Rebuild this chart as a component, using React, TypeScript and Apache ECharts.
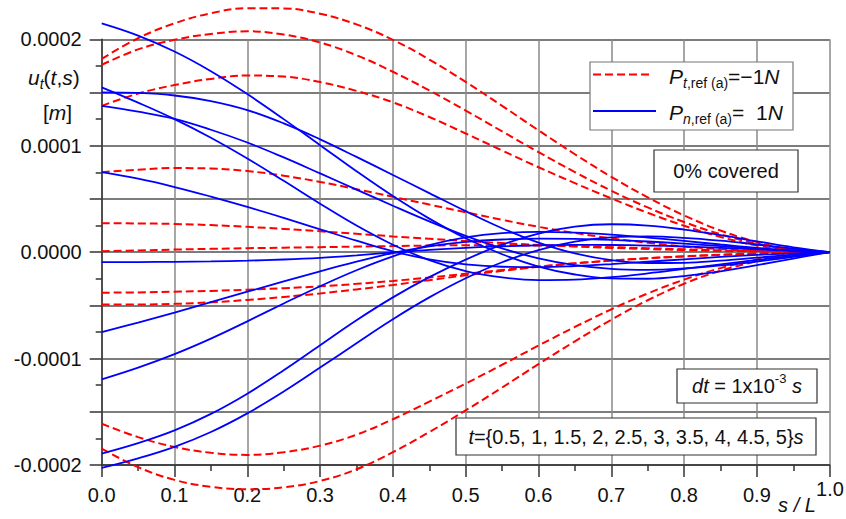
import React, { useEffect, useRef } from 'react';
import * as echarts from 'echarts';

// positions along the beam, s / L
const sPositions = [0, 0.05, 0.1, 0.15, 0.2, 0.25, 0.3, 0.35, 0.4, 0.45, 0.5, 0.55, 0.6, 0.65, 0.7, 0.75, 0.8, 0.85, 0.9, 0.95, 1.0];

// red dashed curves: P_t,ref(a) = -1N  (u_t in m)
const redCurve1 = [1.816e-4, 2.010e-4, 2.150e-4, 2.245e-4, 2.292e-4, 2.290e-4, 2.240e-4, 2.140e-4, 1.995e-4, 1.810e-4, 1.600e-4, 1.375e-4, 1.145e-4, 0.920e-4, 0.708e-4, 0.515e-4, 0.345e-4, 0.203e-4, 0.095e-4, 0.025e-4, 0];
const redCurve2 = [1.760e-4, 1.905e-4, 1.995e-4, 2.050e-4, 2.075e-4, 2.045e-4, 1.970e-4, 1.850e-4, 1.695e-4, 1.520e-4, 1.330e-4, 1.135e-4, 0.940e-4, 0.752e-4, 0.577e-4, 0.420e-4, 0.283e-4, 0.168e-4, 0.080e-4, 0.022e-4, 0];
const redCurve3 = [1.375e-4, 1.490e-4, 1.570e-4, 1.628e-4, 1.660e-4, 1.650e-4, 1.598e-4, 1.515e-4, 1.408e-4, 1.270e-4, 1.115e-4, 0.955e-4, 0.798e-4, 0.648e-4, 0.505e-4, 0.370e-4, 0.248e-4, 0.143e-4, 0.063e-4, 0.016e-4, 0];
const redCurve4 = [0.751e-4, 0.775e-4, 0.790e-4, 0.786e-4, 0.762e-4, 0.718e-4, 0.660e-4, 0.592e-4, 0.520e-4, 0.447e-4, 0.375e-4, 0.304e-4, 0.238e-4, 0.180e-4, 0.130e-4, 0.088e-4, 0.054e-4, 0.028e-4, 0.011e-4, 0.003e-4, 0];
const redCurve5 = [0.272e-4, 0.270e-4, 0.265e-4, 0.254e-4, 0.238e-4, 0.218e-4, 0.196e-4, 0.172e-4, 0.148e-4, 0.125e-4, 0.104e-4, 0.085e-4, 0.068e-4, 0.053e-4, 0.040e-4, 0.029e-4, 0.019e-4, 0.011e-4, 0.005e-4, 0.001e-4, 0];
const redCurve6 = [0.009e-4, 0.016e-4, 0.024e-4, 0.031e-4, 0.037e-4, 0.042e-4, 0.047e-4, 0.052e-4, 0.057e-4, 0.062e-4, 0.065e-4, 0.065e-4, 0.062e-4, 0.056e-4, 0.047e-4, 0.037e-4, 0.027e-4, 0.017e-4, 0.009e-4, 0.003e-4, 0];
const redCurve7 = [-0.381e-4, -0.378e-4, -0.372e-4, -0.364e-4, -0.353e-4, -0.339e-4, -0.321e-4, -0.298e-4, -0.270e-4, -0.238e-4, -0.203e-4, -0.168e-4, -0.135e-4, -0.105e-4, -0.079e-4, -0.057e-4, -0.039e-4, -0.024e-4, -0.013e-4, -0.005e-4, 0];
const redCurve8 = [-0.491e-4, -0.492e-4, -0.486e-4, -0.471e-4, -0.449e-4, -0.421e-4, -0.388e-4, -0.350e-4, -0.308e-4, -0.263e-4, -0.218e-4, -0.176e-4, -0.138e-4, -0.106e-4, -0.079e-4, -0.057e-4, -0.040e-4, -0.026e-4, -0.015e-4, -0.006e-4, 0];
const redCurve9 = [-1.612e-4, -1.738e-4, -1.830e-4, -1.885e-4, -1.905e-4, -1.880e-4, -1.818e-4, -1.715e-4, -1.570e-4, -1.405e-4, -1.235e-4, -1.058e-4, -0.878e-4, -0.703e-4, -0.537e-4, -0.388e-4, -0.258e-4, -0.150e-4, -0.070e-4, -0.020e-4, 0];
const redCurve10 = [-1.846e-4, -2.020e-4, -2.140e-4, -2.205e-4, -2.228e-4, -2.210e-4, -2.150e-4, -2.040e-4, -1.880e-4, -1.690e-4, -1.487e-4, -1.272e-4, -1.052e-4, -0.838e-4, -0.635e-4, -0.452e-4, -0.297e-4, -0.175e-4, -0.087e-4, -0.030e-4, 0];

// blue solid curves: P_n,ref(a) = 1N
const blueCurve1 = [2.150e-4, 2.035e-4, 1.885e-4, 1.700e-4, 1.485e-4, 1.250e-4, 1.005e-4, 0.760e-4, 0.527e-4, 0.315e-4, 0.130e-4, -0.020e-4, -0.135e-4, -0.210e-4, -0.247e-4, -0.250e-4, -0.225e-4, -0.180e-4, -0.122e-4, -0.060e-4, 0];
const blueCurve2 = [1.549e-4, 1.405e-4, 1.250e-4, 1.075e-4, 0.880e-4, 0.670e-4, 0.455e-4, 0.250e-4, 0.070e-4, -0.075e-4, -0.178e-4, -0.238e-4, -0.262e-4, -0.258e-4, -0.235e-4, -0.200e-4, -0.158e-4, -0.115e-4, -0.073e-4, -0.035e-4, 0];
const blueCurve3 = [1.502e-4, 1.496e-4, 1.472e-4, 1.420e-4, 1.335e-4, 1.210e-4, 1.060e-4, 0.895e-4, 0.725e-4, 0.555e-4, 0.385e-4, 0.225e-4, 0.090e-4, -0.012e-4, -0.075e-4, -0.102e-4, -0.100e-4, -0.080e-4, -0.052e-4, -0.024e-4, 0];
const blueCurve4 = [1.375e-4, 1.320e-4, 1.252e-4, 1.150e-4, 1.030e-4, 0.890e-4, 0.740e-4, 0.588e-4, 0.436e-4, 0.289e-4, 0.153e-4, 0.035e-4, -0.058e-4, -0.122e-4, -0.157e-4, -0.166e-4, -0.153e-4, -0.125e-4, -0.088e-4, -0.045e-4, 0];
const blueCurve5 = [0.751e-4, 0.690e-4, 0.612e-4, 0.522e-4, 0.425e-4, 0.322e-4, 0.215e-4, 0.108e-4, 0.008e-4, -0.068e-4, -0.115e-4, -0.137e-4, -0.140e-4, -0.130e-4, -0.112e-4, -0.090e-4, -0.067e-4, -0.045e-4, -0.026e-4, -0.011e-4, 0];
const blueCurve6 = [-0.094e-4, -0.093e-4, -0.091e-4, -0.087e-4, -0.080e-4, -0.069e-4, -0.053e-4, -0.030e-4, -0.003e-4, 0.022e-4, 0.041e-4, 0.055e-4, 0.064e-4, 0.068e-4, 0.067e-4, 0.062e-4, 0.053e-4, 0.041e-4, 0.027e-4, 0.012e-4, 0];
const blueCurve7 = [-0.751e-4, -0.662e-4, -0.568e-4, -0.470e-4, -0.372e-4, -0.275e-4, -0.180e-4, -0.090e-4, -0.008e-4, 0.055e-4, 0.097e-4, 0.119e-4, 0.127e-4, 0.124e-4, 0.115e-4, 0.100e-4, 0.080e-4, 0.057e-4, 0.034e-4, 0.014e-4, 0];
const blueCurve8 = [-1.195e-4, -1.085e-4, -0.958e-4, -0.812e-4, -0.650e-4, -0.482e-4, -0.320e-4, -0.170e-4, -0.040e-4, 0.065e-4, 0.138e-4, 0.178e-4, 0.190e-4, 0.183e-4, 0.164e-4, 0.137e-4, 0.105e-4, 0.072e-4, 0.040e-4, 0.015e-4, 0];
const blueCurve9 = [-1.893e-4, -1.795e-4, -1.675e-4, -1.520e-4, -1.330e-4, -1.110e-4, -0.875e-4, -0.640e-4, -0.425e-4, -0.235e-4, -0.070e-4, 0.070e-4, 0.175e-4, 0.240e-4, 0.262e-4, 0.250e-4, 0.212e-4, 0.160e-4, 0.102e-4, 0.045e-4, 0];
const blueCurve10 = [-2.028e-4, -1.938e-4, -1.830e-4, -1.690e-4, -1.515e-4, -1.310e-4, -1.085e-4, -0.855e-4, -0.630e-4, -0.425e-4, -0.245e-4, -0.095e-4, 0.020e-4, 0.098e-4, 0.138e-4, 0.148e-4, 0.135e-4, 0.108e-4, 0.072e-4, 0.033e-4, 0];

const redCurves = [redCurve1, redCurve2, redCurve3, redCurve4, redCurve5, redCurve6, redCurve7, redCurve8, redCurve9, redCurve10];
const blueCurves = [blueCurve1, blueCurve2, blueCurve3, blueCurve4, blueCurve5, blueCurve6, blueCurve7, blueCurve8, blueCurve9, blueCurve10];

const FONT = '"Liberation Sans", Arial, Helvetica, sans-serif';
const RED = '#ff0000';
const BLUE = '#0000ff';

function buildOption() {
  const series: any[] = [];
  redCurves.forEach((c, k) => {
    series.push({
      type: 'line',
      name: 'red' + (k + 1),
      data: sPositions.map((s, i) => [s, c[i]]),
      showSymbol: false,
      smooth: 0.4,
      clip: false,
      silent: true,
      z: 3,
      lineStyle: { color: RED, width: 2, type: [8, 4] },
    });
  });
  blueCurves.forEach((c, k) => {
    series.push({
      type: 'line',
      name: 'blue' + (k + 1),
      data: sPositions.map((s, i) => [s, c[i]]),
      showSymbol: false,
      smooth: 0.4,
      clip: false,
      silent: true,
      z: 4,
      lineStyle: { color: BLUE, width: 1.8 },
    });
  });

  const mainRich = (size: number) => ({
    n: { fontSize: size, fontFamily: FONT, lineHeight: 28, fill: '#111', color: '#111' },
    i: { fontSize: size, fontFamily: FONT, fontStyle: 'italic', lineHeight: 28, fill: '#111', color: '#111' },
    sub: { fontSize: 14, fontFamily: FONT, lineHeight: 14, verticalAlign: 'bottom', fill: '#111', color: '#111' },
    subi: { fontSize: 14, fontFamily: FONT, fontStyle: 'italic', lineHeight: 14, verticalAlign: 'bottom', fill: '#111', color: '#111' },
    sup: { fontSize: 13, fontFamily: FONT, lineHeight: 13, verticalAlign: 'top', fill: '#111', color: '#111' },
  });

  const txt = (x: number, y: number, text: string, align: string, size = 20) => ({
    type: 'text',
    x,
    y,
    z: 101,
    silent: true,
    style: {
      text,
      align,
      textAlign: align,
      verticalAlign: 'middle',
      textVerticalAlign: 'middle',
      fontSize: size,
      fontFamily: FONT,
      fill: '#111',
      lineHeight: 28,
      rich: mainRich(size),
    },
  });

  const box = (x: number, y: number, w: number, h: number, stroke: string) => ({
    type: 'rect',
    z: 100,
    silent: true,
    shape: { x, y, width: w, height: h },
    style: { fill: '#fff', stroke, lineWidth: 1.2 },
  });

  const graphic: any[] = [
    // y axis title
    txt(28, 77, '{i|u}{subi|t}{n|(}{i|t}{n|,}{i|s}{n|)}', 'left', 21),
    txt(43, 112, '{n|[}{i|m}{n|]}', 'left', 21),
    // x axis end label and title
    txt(830, 489, '{n|1.0}', 'center', 20),
    txt(797, 505, '{i|s / L}', 'center', 20),
    // legend
    box(590, 62, 203, 68, '#777'),
    {
      type: 'line', z: 101, silent: true,
      shape: { x1: 593, y1: 74.5, x2: 653, y2: 74.5 },
      style: { stroke: RED, lineWidth: 2, lineDash: [8, 4] },
    },
    {
      type: 'line', z: 101, silent: true,
      shape: { x1: 593, y1: 111, x2: 656, y2: 111 },
      style: { stroke: BLUE, lineWidth: 1.8 },
    },
    txt(669, 76, '{i|P}{subi|t}{sub|,ref (a)}{n|=\u22121}{i|N}', 'left', 21),
    txt(669, 112, '{i|P}{subi|n}{sub|,ref (a)}{n|=  1}{i|N}', 'left', 21),
    // info boxes
    box(654, 150, 144, 42, '#333'),
    txt(726, 171, '{n|0% covered}', 'center', 20),
    box(677, 369, 140, 34, '#333'),
    txt(747, 386, '{i|dt}{n| = 1x10}{sup|-3}{n| }{i|s}', 'center', 20),
    box(456, 418, 360, 37, '#333'),
    txt(636, 437, '{i|t}={0.5, 1, 1.5, 2, 2.5, 3, 3.5, 4, 4.5, 5}{i|s}', 'center', 20),
  ];

  return {
    animation: false,
    backgroundColor: '#ffffff',
    textStyle: { fontFamily: FONT },
    grid: { left: 101.7, right: 16.3, top: 39.3, bottom: 54, containLabel: false, outerBoundsMode: 'none' },
    xAxis: {
      type: 'value',
      min: 0,
      max: 1,
      interval: 0.1,
      axisLine: { show: true, onZero: false, lineStyle: { color: '#333', width: 1.5 } },
      axisTick: { show: true, length: 12, lineStyle: { color: '#333', width: 1.5 } },
      minorTick: { show: true, splitNumber: 2, length: 6, lineStyle: { color: '#333', width: 1.5 } },
      splitLine: { show: true, lineStyle: { color: '#8a8a8a', width: 1.5 } },
      axisLabel: {
        margin: 20,
        fontSize: 20,
        fontFamily: FONT,
        color: '#111',
        formatter: (v: number) => (Math.abs(v - 1) < 1e-9 ? '' : v.toFixed(1)),
      },
    },
    yAxis: {
      type: 'value',
      min: -0.0002,
      max: 0.0002,
      interval: 0.00005,
      axisLine: { show: true, onZero: false, lineStyle: { color: '#333', width: 1.5 } },
      axisTick: { show: true, length: 12, lineStyle: { color: '#333', width: 1.5 } },
      minorTick: { show: true, splitNumber: 2, length: 6, lineStyle: { color: '#333', width: 1.5 } },
      splitLine: { show: true, lineStyle: { color: '#505050', width: 1.5 } },
      axisLabel: {
        margin: 20,
        fontSize: 20,
        fontFamily: FONT,
        color: '#111',
        formatter: (v: number) => {
          const k = Math.round(v * 1e5);
          return k % 10 === 0 ? (k / 1e5).toFixed(4) : '';
        },
      },
    },
    graphic,
    series,
  };
}

export default function App() {
  const ref = useRef<HTMLDivElement>(null);
  useEffect(() => {
    if (!ref.current) return;
    const chart = echarts.init(ref.current, null, { renderer: 'svg' });
    chart.setOption(buildOption() as any);
    return () => chart.dispose();
  }, []);
  return (
    <div
      ref={ref}
      style={{ position: 'absolute', left: 0, top: 0, width: 846, height: 519, background: '#fff' }}
    />
  );
}
